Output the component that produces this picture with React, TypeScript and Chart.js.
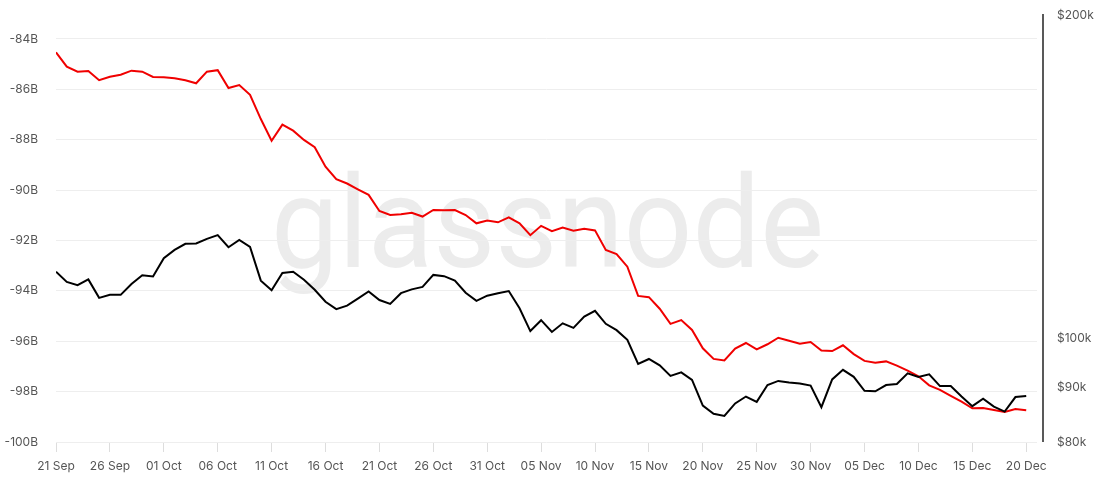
import React, { useEffect, useRef } from "react";
import { Chart, registerables } from "chart.js";

Chart.register(...registerables);

const tickLabels = [
  "21 Sep", "26 Sep", "01 Oct", "06 Oct", "11 Oct", "16 Oct", "21 Oct", "26 Oct",
  "31 Oct", "05 Nov", "10 Nov", "15 Nov", "20 Nov", "25 Nov", "30 Nov", "05 Dec",
  "10 Dec", "15 Dec", "20 Dec",
];

// Red series, left axis (billions)
const balanceB = [
  -84.53, -85.10, -85.30, -85.27, -85.64, -85.50, -85.42, -85.26, -85.30, -85.51,
  -85.52, -85.56, -85.64, -85.76, -85.30, -85.24, -85.95, -85.83, -86.22, -87.18,
  -88.04, -87.40, -87.64, -88.01, -88.30, -89.07, -89.57, -89.74, -89.97, -90.19,
  -90.83, -90.99, -90.96, -90.90, -91.05, -90.79, -90.80, -90.79, -90.99, -91.32,
  -91.21, -91.28, -91.08, -91.32, -91.79, -91.42, -91.63, -91.49, -91.61, -91.54,
  -91.60, -92.38, -92.54, -93.04, -94.20, -94.25, -94.71, -95.31, -95.16, -95.55,
  -96.28, -96.70, -96.76, -96.29, -96.07, -96.32, -96.12, -95.86, -95.98, -96.10,
  -96.03, -96.37, -96.39, -96.16, -96.51, -96.78, -96.85, -96.80, -96.97, -97.17,
  -97.39, -97.75, -97.93, -98.17, -98.40, -98.66, -98.65, -98.73, -98.81, -98.69,
  -98.74,
];

// Black series, right log axis (price in $k)
const priceK = [
  115.3, 112.8, 112.0, 113.4, 109.0, 109.7, 109.7, 112.3, 114.4, 114.1,
  118.7, 120.8, 122.4, 122.5, 123.7, 124.7, 121.5, 123.4, 121.6, 113.1,
  110.8, 115.0, 115.3, 113.3, 110.9, 108.1, 106.4, 107.2, 108.8, 110.5,
  108.5, 107.6, 110.1, 111.0, 111.6, 114.5, 114.2, 113.1, 110.2, 108.3,
  109.5, 110.1, 110.6, 106.6, 101.5, 103.9, 101.3, 103.2, 102.2, 104.7,
  106.0, 103.1, 101.7, 99.6, 94.6, 95.6, 94.3, 92.2, 92.9, 91.4,
  86.5, 85.0, 84.6, 86.9, 88.2, 87.2, 90.4, 91.2, 90.9, 90.7,
  90.3, 86.2, 91.5, 93.4, 92.0, 89.3, 89.2, 90.4, 90.6, 92.7,
  92.0, 92.5, 90.2, 90.2, 88.2, 86.4, 87.8, 86.3, 85.4, 88.1,
  88.3,
];

const leftTicks = [-100, -98, -96, -94, -92, -90, -88, -86, -84];
const rightTicks = [80, 90, 100, 200];

const FONT = 'Inter, "Noto Sans", sans-serif';
const LABEL_COLOR = "#555555";

export default function App() {
  const ref = useRef<HTMLCanvasElement | null>(null);

  useEffect(() => {
    document.body.style.margin = "0";
    const canvas = ref.current;
    if (!canvas) return;

    const watermark = {
      id: "watermark",
      beforeDraw(chart: any) {
        const { ctx } = chart;
        ctx.save();
        ctx.font = '400 128px Roboto, "Noto Sans", sans-serif';
        ctx.fillStyle = "#ececec";
        ctx.textAlign = "center";
        ctx.textBaseline = "alphabetic";
        const w = ctx.measureText("glassnode").width;
        ctx.translate(547.5, 266.5);
        ctx.scale(553 / w, 1);
        ctx.fillText("glassnode", 0, 0);
        ctx.restore();
      },
    };

    const rightBorder = {
      id: "rightBorder",
      afterDatasetsDraw(chart: any) {
        const { ctx, chartArea } = chart;
        ctx.save();
        ctx.strokeStyle = "#222222";
        ctx.lineWidth = 1.5;
        ctx.beginPath();
        const x = chartArea.right + 6;
        ctx.moveTo(x, chartArea.top - 1);
        ctx.lineTo(x, chartArea.bottom);
        ctx.stroke();
        ctx.restore();
      },
    };

    const chart = new Chart(canvas, {
      type: "line",
      data: {
        datasets: [
          {
            label: "Price",
            data: priceK.map((v, i) => ({ x: i, y: v })),
            yAxisID: "yR",
            borderColor: "#000000",
            borderWidth: 2,
            pointRadius: 0,
            tension: 0,
          },
          {
            label: "Balance",
            data: balanceB.map((v, i) => ({ x: i, y: v })),
            yAxisID: "y",
            borderColor: "#f00000",
            borderWidth: 2,
            pointRadius: 0,
            tension: 0,
          },
        ],
      },
      options: {
        animation: false,
        responsive: false,
        maintainAspectRatio: false,
        layout: { padding: { top: 15, left: 0, right: 0, bottom: 0 } },
        plugins: {
          legend: { display: false },
          tooltip: { enabled: false },
        },
        scales: {
          x: {
            type: "linear",
            min: 0,
            max: 91,
            afterBuildTicks: (s: any) => {
              s.ticks = tickLabels.map((_, k) => ({ value: k * 5 }));
            },
            afterFit: (s: any) => {
              s.height = 37;
            },
            ticks: {
              autoSkip: false,
              maxRotation: 0,
              padding: 7,
              color: LABEL_COLOR,
              font: { family: FONT, size: 12 },
              callback: (v: any) => tickLabels[Math.round(Number(v) / 5)],
            },
            grid: {
              drawOnChartArea: false,
              drawTicks: true,
              tickLength: 10,
              color: "#dddddd",
            },
            border: { display: false },
          },
          y: {
            position: "left",
            min: -100,
            max: -83.05,
            afterBuildTicks: (s: any) => {
              s.ticks = leftTicks.map((v) => ({ value: v }));
            },
            afterFit: (s: any) => {
              s.width = 56;
              s.paddingTop = 0;
              s.paddingBottom = 0;
            },
            ticks: {
              padding: 18,
              color: LABEL_COLOR,
              font: { family: FONT, size: 12 },
              callback: (v: any) => `${v}B`,
            },
            grid: { color: "#eeeeee", lineWidth: 1, drawTicks: false },
            border: { display: false },
          },
          yR: {
            type: "logarithmic",
            position: "right",
            min: 80,
            max: 200,
            afterBuildTicks: (s: any) => {
              s.ticks = rightTicks.map((v) => ({ value: v }));
            },
            afterFit: (s: any) => {
              s.width = 57;
              s.paddingTop = 0;
              s.paddingBottom = 0;
            },
            ticks: {
              padding: 20,
              color: LABEL_COLOR,
              font: { family: FONT, size: 12 },
              callback: (v: any) => `$${v}k`,
            },
            grid: { display: false, drawTicks: false },
            border: { display: false },
          },
        },
      },
      plugins: [watermark, rightBorder],
    });

    return () => {
      chart.destroy();
    };
  }, []);

  return (
    <div style={{ width: 1094, height: 479 }}>
      <canvas ref={ref} width={1094} height={479} style={{ width: 1094, height: 479, display: "block" }} />
    </div>
  );
}
